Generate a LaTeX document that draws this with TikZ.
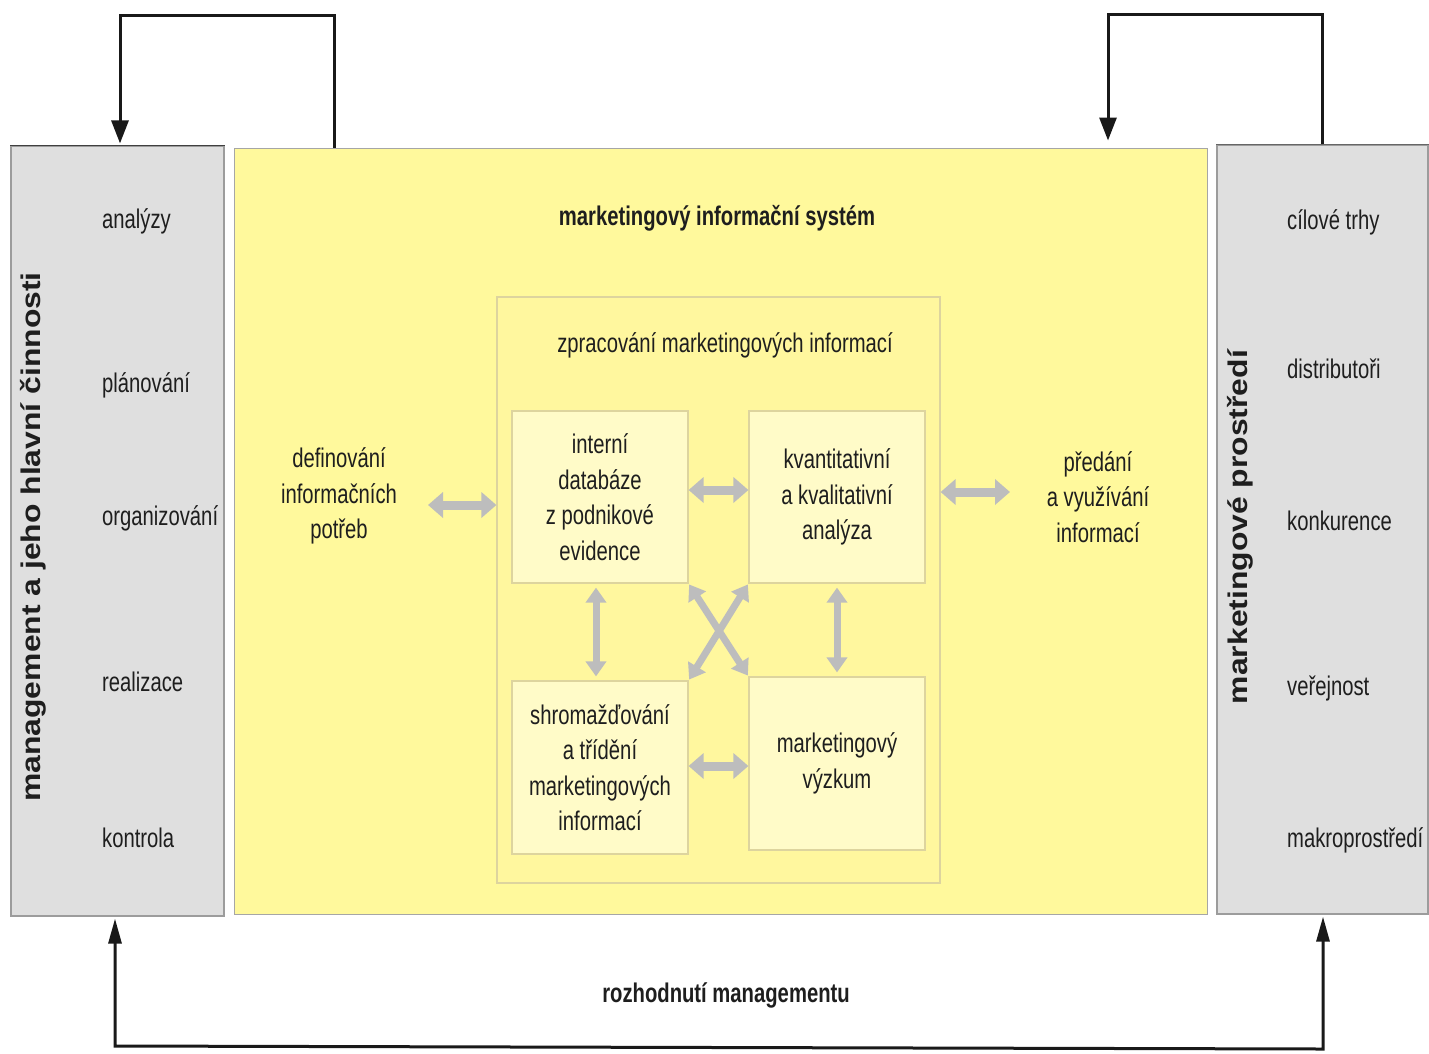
\documentclass[tikz,border=0pt]{standalone}
\usepackage{fontspec}
\setmainfont{Liberation Sans}
\newfontfamily\nar[FakeStretch=0.75]{Liberation Sans}
\newfontfamily\wide[FakeStretch=1.18]{Liberation Sans}
\usetikzlibrary{arrows.meta,calc}
\definecolor{ylw}{HTML}{FFF99C}
\definecolor{ylwin}{HTML}{FFF79E}
\definecolor{ylwbox}{HTML}{FFFBC8}
\definecolor{ylwline}{HTML}{DDD49E}
\definecolor{grayfill}{HTML}{DFDFDF}
\definecolor{grayline}{HTML}{9C9C9C}
\definecolor{arrgray}{HTML}{BDBDBD}
\definecolor{txt}{HTML}{1E1E1E}
\begin{document}
\begin{tikzpicture}[x=1pt,y=-1pt,
  txtn/.style={text=txt,font=\nar\fontsize{27pt}{35.5pt}\selectfont,inner sep=0pt},
  vlab/.style={text=txt,font=\wide\bfseries\fontsize{27pt}{32pt}\selectfont,inner sep=0pt,rotate=90},
  graybox/.style={draw=grayline,fill=grayfill,line width=1.2pt,inner sep=0pt},
  mainbox/.style={draw=gray!70,fill=ylw,line width=1pt,inner sep=0pt},
  innerbox/.style={draw=ylwline,fill=ylwin,line width=1.2pt,inner sep=0pt},
  smallbox/.style={draw=ylwline,fill=ylwbox,line width=1.2pt,inner sep=0pt,
     minimum width=176pt,align=center,text=txt,font=\nar\fontsize{27pt}{35.5pt}\selectfont},
  fat/.style={arrgray,line width=9pt,{Triangle[length=15pt,width=25pt]}-{Triangle[length=15pt,width=25pt]}},
  thin/.style={arrgray,line width=7pt,{Triangle[length=15pt,width=20pt]}-{Triangle[length=15pt,width=20pt]}},
  fb/.style={black!90,line width=3pt,-{Triangle[length=23pt,width=17pt]}},
  fbb/.style={black!90,line width=3pt,{Triangle[length=25pt,width=13pt]}-{Triangle[length=25pt,width=13pt]}}
]
\useasboundingbox (0,0) rectangle (1429,1053);

% big boxes
\node[graybox,minimum width=213pt,minimum height=770pt] (L) at (117.5,531) {};
\node[mainbox,minimum width=973pt,minimum height=766pt] (Y) at (720.5,531) {};
\node[graybox,minimum width=211pt,minimum height=769pt] (R) at (1322.5,529.5) {};
\draw[black!75,line width=1.5pt] (L.north west) -- (L.north east);
\draw[black!60,line width=1.5pt] (R.north west) -- (R.north east);

\node[innerbox,minimum width=443pt,minimum height=586pt] (I) at (718.5,590) {};

\node[smallbox,minimum height=172pt] (A) at (600,497) {interní\\databáze\\z podnikové\\evidence};
\node[smallbox,minimum height=172pt] (B) at (837,497) {kvantitativní\\a kvalitativní\\analýza};
\node[smallbox,minimum height=173pt] (C) at (600,767.5) {shromažďování\\a třídění\\marketingových\\informací};
\node[smallbox,minimum height=173pt] (D) at (837,763.5) {marketingový\\výzkum};

% titles
\node[txtn,font=\nar\bfseries\fontsize{27pt}{35.5pt}\selectfont] (title) at (717,218) {marketingový informační systém};
\node[txtn] (zpr) at (725,345) {zpracování marketingových informací};
\node[txtn,align=center] (def) at (339,496) {definování\\informačních\\potřeb};
\node[txtn,align=center] (pred) at (1098,497) {předání\\a využívání\\informací};
\node[txtn,font=\nar\bfseries\fontsize{27pt}{35.5pt}\selectfont] (rozh) at (726,995) {rozhodnutí managementu};

% left list
\node[txtn,anchor=base west] (l1) at (102,228) {analýzy};
\node[txtn,anchor=base west] (l2) at (102,392) {plánování};
\node[txtn,anchor=base west] (l3) at (102,525) {organizování};
\node[txtn,anchor=base west] (l4) at (102,691) {realizace};
\node[txtn,anchor=base west] (l5) at (102,847) {kontrola};
% right list
\node[txtn,anchor=base west] (r1) at (1287,229) {cílové trhy};
\node[txtn,anchor=base west] (r2) at (1287,378) {distributoři};
\node[txtn,anchor=base west] (r3) at (1287,530) {konkurence};
\node[txtn,anchor=base west] (r4) at (1287,695) {veřejnost};
\node[txtn,anchor=base west] (r5) at (1287,847) {makroprostředí};

% vertical labels
\node[vlab] (vl) at (33,537) {management a jeho hlavní činnosti};
\node[vlab] (vr) at (1240,527) {marketingové prostředí};

% gray arrows
\coordinate (dl) at (428,505);
\coordinate (pr) at (1010,492);
\draw[fat] (dl) -- (dl -| I.west);
\draw[fat] ([yshift=7pt]A.east) -- ([yshift=7pt]A.east -| B.west);
\draw[fat] (pr -| I.east) -- (pr);
\draw[fat] ([yshift=1.5pt]C.east) -- ([yshift=1.5pt]C.east -| D.west);
\draw[thin,shorten <=4pt,shorten >=4pt] ([xshift=-4pt]A.south) -- ([xshift=-4pt]A.south |- C.north);
\draw[thin,shorten <=4pt,shorten >=4pt] (B.south) -- (B.south |- D.north);
\draw[thin,shorten <=1pt,shorten >=1pt] (A.south east) -- (D.north west);
\draw[thin,shorten <=1pt,shorten >=1pt] (B.south west) -- (C.north east);

% feedback arrows
\coordinate (t1) at (120,15);
\coordinate (t2) at (1108,14);
\coordinate (b1) at (115,1046);
\coordinate (b2) at (1323,1049);
\draw[fb,shorten >=2pt] ([xshift=101pt]Y.north west) |- (t1) -- (t1 |- L.north);
\draw[fb,shorten >=7pt] (R.north) |- (t2) -- (t2 |- Y.north);
\draw[fbb,shorten <=2pt,shorten >=2pt] (b1 |- L.south) -- (b1) -- (b2) -- (b2 |- R.south);
\end{tikzpicture}
\end{document}
